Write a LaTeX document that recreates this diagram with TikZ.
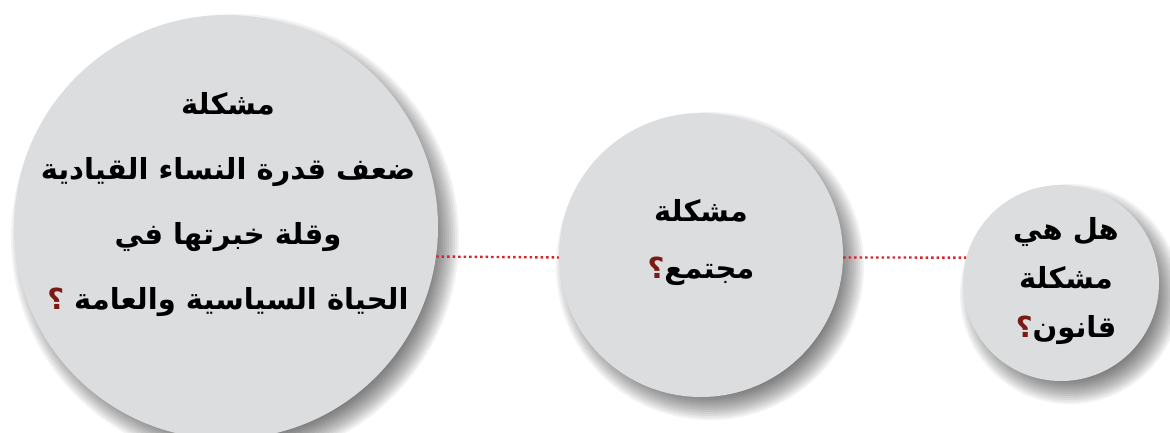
\documentclass[tikz,border=0pt]{standalone}
\usepackage{fontspec}
\newfontfamily\arabicfont[Script=Arabic]{DejaVu Sans}
\TeXXeTstate=1
\definecolor{disc}{HTML}{DCDDDF}
\definecolor{qred}{HTML}{7A1A14}
\definecolor{dotred}{HTML}{D8232A}
\tikzset{
  disc/.style={circle, fill=disc, inner sep=0pt},
  label/.style={align=center, font=\arabicfont\bfseries\fontsize{29}{#1}\selectfont, text=black},
  link/.style={dotred, line width=2.4pt, dash pattern=on 2.4pt off 3.1pt},
}
\newcommand{\softshadow}[2]{%
  \foreach \k in {0,...,12}{\fill[black, opacity=0.05] ([shift={(9,11)}]#1) circle ({#2-12+2*\k});}}
\newcommand{\qm}{\textcolor{qred}{؟}}
\begin{document}
\begin{tikzpicture}[x=1pt, y=-1pt]
\useasboundingbox (0,0) rectangle (1170,432);
\coordinate (cb) at (226,227);
\coordinate (cm) at (701,255);
\coordinate (cr) at (1061,283);
\softshadow{cb}{212}
\softshadow{cm}{142}
\softshadow{cr}{98}
\node[disc, minimum size=424pt] (big) at (cb) {};
\node[disc, minimum size=284pt] (mid) at (cm) {};
\node[disc, minimum size=196pt] (sml) at (cr) {};
\draw[link] (big.-8.4) -- (mid.181.2);
\draw[link] (mid.-1.2) -- (sml.165.2);
\node[label=65pt] (tb) at (228,205) {\beginR مشكلة\endR\\\beginR ضعف قدرة النساء القيادية\endR\\\beginR وقلة خبرتها في\endR\\\qm\ \beginR الحياة السياسية والعامة\endR};
\node[label=57pt] (tm) at (701,243) {\beginR مشكلة\endR\\\qm\beginR مجتمع\endR};
\node[label=49pt] (tr) at (1066,281) {\beginR هل هي\endR\\\beginR مشكلة\endR\\\qm\beginR قانون\endR};
\end{tikzpicture}
\end{document}
